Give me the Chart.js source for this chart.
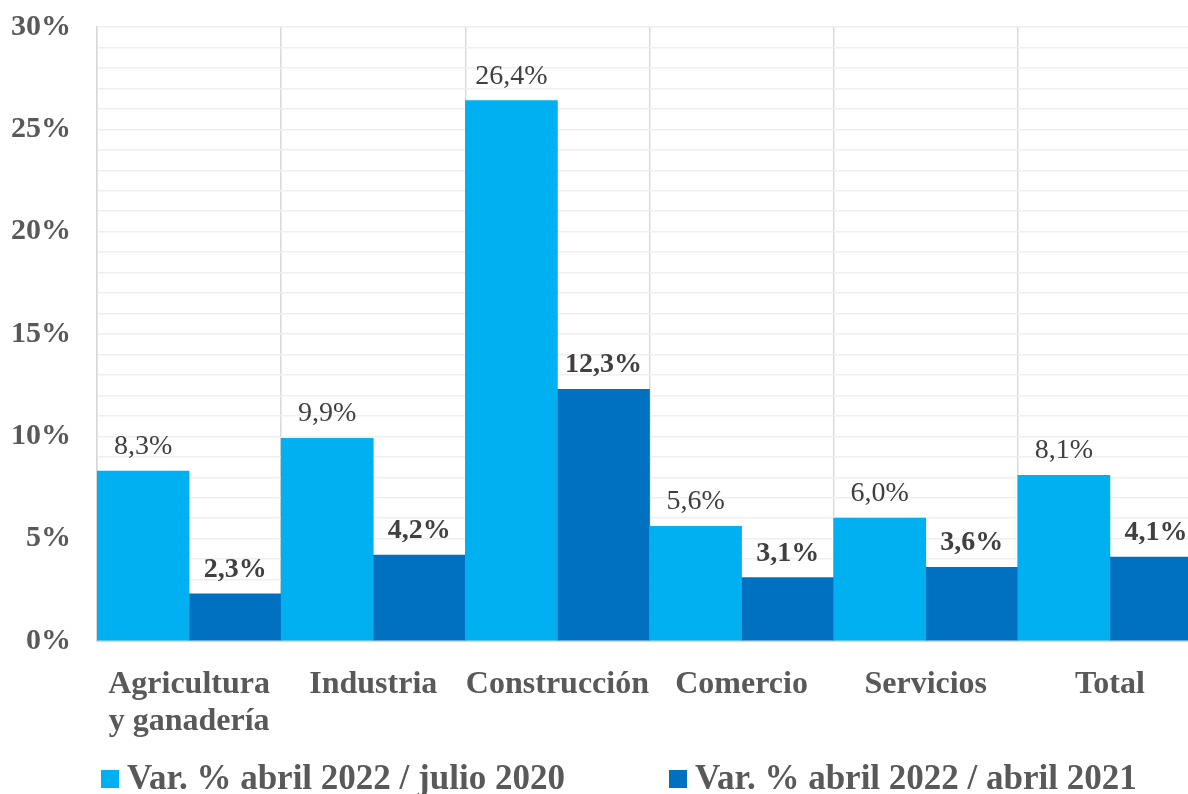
<!DOCTYPE html>
<html>
<head>
<meta charset="utf-8">
<script src="https://cdn.jsdelivr.net/npm/chart.js@4.4.1/dist/chart.umd.min.js"></script>
<style>
  html, body { margin: 0; padding: 0; overflow: hidden; background: #fff; }
  canvas { display: block; }
</style>
</head>
<body>
<canvas id="chart" width="1202" height="794"></canvas>
<script>
// data
const categories = [['Agricultura', 'y ganadería'], 'Industria', 'Construcción', 'Comercio', 'Servicios', 'Total'];
const seriesNames = ['Var. % abril 2022 / julio 2020', 'Var. % abril 2022 / abril 2021'];
const varJulio2020 = [8.3, 9.9, 26.4, 5.6, 6.0, 8.1];
const varAbril2021 = [2.3, 4.2, 12.3, 3.1, 3.6, 4.1];
const yTickLabels = [0, 5, 10, 15, 20, 25, 30];

const SERIF = '"Liberation Serif", "Times New Roman", serif';

function fmt(v) { return v.toFixed(1).replace('.', ',') + '%'; }

// value labels above bars (first series regular, second bold)
const valueLabels = {
  id: 'valueLabels',
  afterDatasetsDraw(chart) {
    const ctx = chart.ctx;
    chart.data.datasets.forEach((ds, i) => {
      const meta = chart.getDatasetMeta(i);
      ctx.save();
      ctx.font = (i === 1 ? 'bold ' : '') + '28px ' + SERIF;
      ctx.fillStyle = '#404040';
      ctx.textAlign = 'center';
      ctx.textBaseline = 'alphabetic';
      meta.data.forEach((bar, j) => ctx.fillText(fmt(ds.data[j]), bar.x, bar.y - 17));
      ctx.restore();
    });
  }
};

// legend row under the axis labels
const legendRow = {
  id: 'legendRow',
  afterDraw(chart) {
    const ctx = chart.ctx;
    const starts = [101, 669];
    ctx.save();
    chart.data.datasets.forEach((ds, i) => {
      ctx.fillStyle = ds.backgroundColor;
      ctx.fillRect(starts[i], 770, 18, 18);
      ctx.font = 'bold 35px ' + SERIF;
      ctx.fillStyle = '#595959';
      ctx.textAlign = 'left';
      ctx.textBaseline = 'alphabetic';
      ctx.fillText(ds.label, starts[i] + 26, 789);
    });
    ctx.restore();
  }
};

new Chart(document.getElementById('chart'), {
  type: 'bar',
  data: {
    labels: categories,
    datasets: [
      { label: seriesNames[0], data: varJulio2020, backgroundColor: '#00B0F0', borderWidth: 0 },
      { label: seriesNames[1], data: varAbril2021, backgroundColor: '#0070C0', borderWidth: 0 }
    ]
  },
  options: {
    responsive: false,
    animation: false,
    layout: { padding: { top: 27, left: 0, right: 0, bottom: 0 } },
    datasets: { bar: { categoryPercentage: 1, barPercentage: 1 } },
    plugins: { legend: { display: false }, tooltip: { enabled: false } },
    scales: {
      x: {
        afterFit(scale) { scale.height = 153; },
        grid: { color: '#d9d9d9', lineWidth: 1.5, drawTicks: false, offset: true },
        border: { color: '#d9d9d9', width: 2 },
        ticks: {
          color: '#595959', padding: 26, maxRotation: 0, autoSkip: false,
          font: { family: SERIF, size: 32, weight: 'bold', lineHeight: 1.13 }
        }
      },
      y: {
        min: 0, max: 30,
        afterFit(scale) { scale.width = 97; scale.paddingTop = 0; },
        grid: { color: '#efefef', lineWidth: 1.5, drawTicks: false },
        border: { color: '#d9d9d9', width: 1.5 },
        ticks: {
          stepSize: 1, padding: 26, color: '#595959', autoSkip: false,
          font: { family: SERIF, size: 30, weight: 'bold' },
          callback: v => yTickLabels.includes(v) ? v + '%' : ''
        }
      }
    }
  },
  plugins: [valueLabels, legendRow]
});
</script>
</body>
</html>
